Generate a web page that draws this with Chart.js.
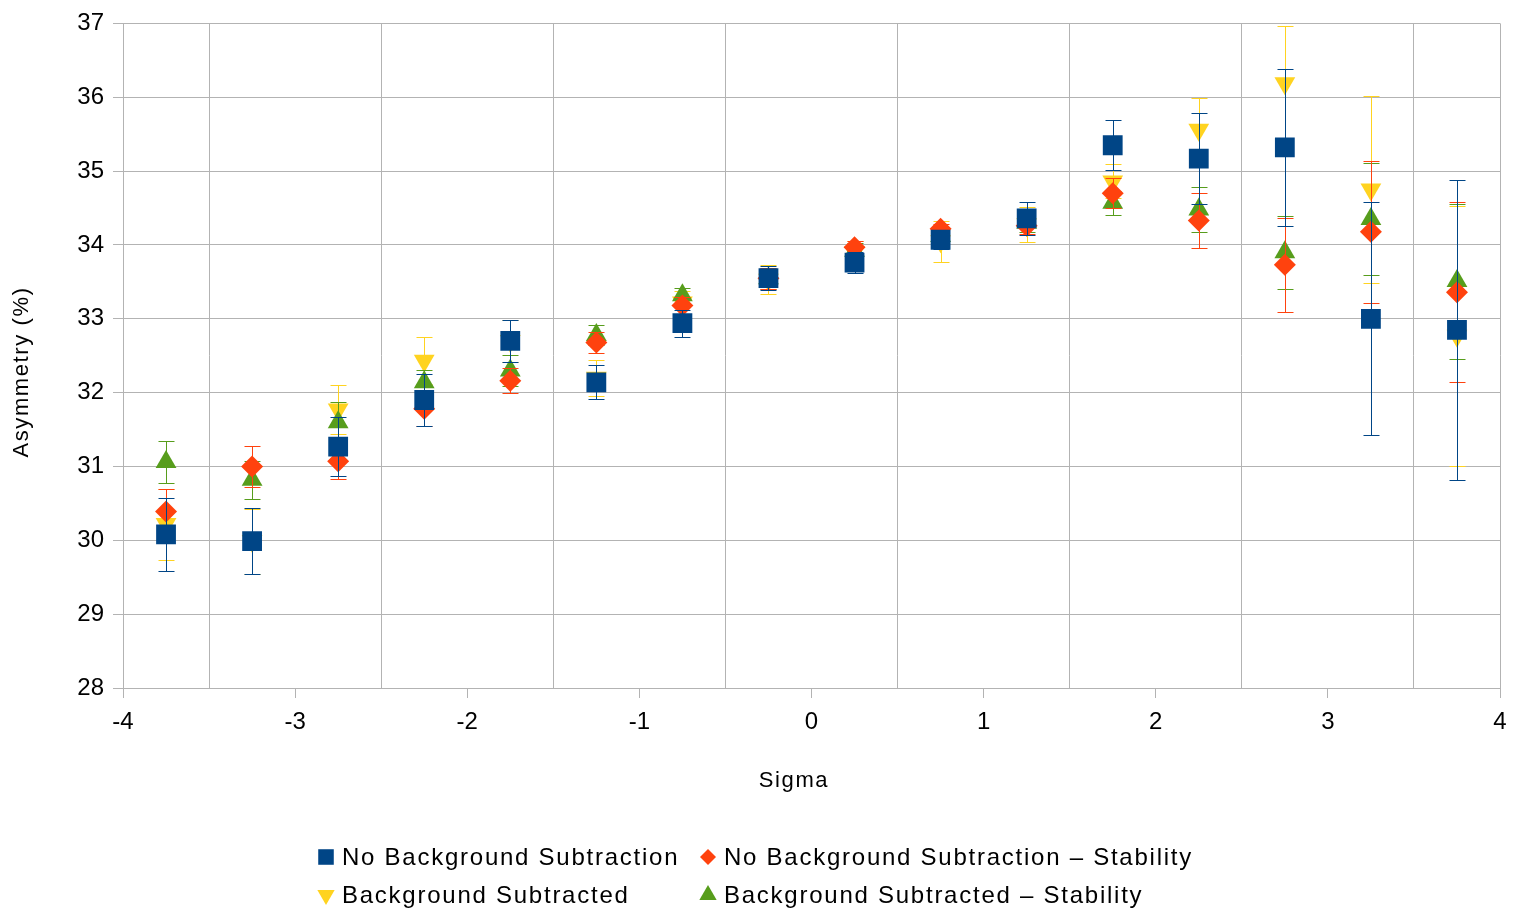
<!DOCTYPE html>
<html>
<head>
<meta charset="utf-8">
<title>Asymmetry vs Sigma</title>
<script src="https://cdn.jsdelivr.net/npm/chart.js@4.4.1/dist/chart.umd.min.js"></script>
<style>
  html, body { margin: 0; padding: 0; background: #fff; overflow: hidden; }
  canvas { display: block; }
</style>
</head>
<body>
<canvas id="asymChart" width="1514" height="909"></canvas>
<script>
// sigma bins (bin centres)
const sigma = [-3.75, -3.25, -2.75, -2.25, -1.75, -1.25, -0.75, -0.25,
               0.25, 0.75, 1.25, 1.75, 2.25, 2.75, 3.25, 3.75];
const sigmaTicks = [-4, -3, -2, -1, 0, 1, 2, 3, 4];

// asymmetry in %, with symmetric errors
const noBgSub      = [30.08, 29.99, 31.27, 31.90, 32.70, 32.14, 32.94, 33.55, 33.76, 34.07, 34.36, 35.35, 35.17, 35.32, 33.00, 32.85];
const noBgSubErr   = [0.49, 0.45, 0.40, 0.35, 0.29, 0.23, 0.18, 0.16, 0.14, 0.12, 0.22, 0.34, 0.61, 1.06, 1.58, 2.03];

const noBgSubStab    = [30.39, 31.00, 31.07, 31.78, 32.16, 32.68, 33.18, 33.55, 33.97, 34.22, 34.26, 34.70, 34.33, 33.73, 34.18, 33.36];
const noBgSubStabErr = [0.31, 0.28, 0.24, 0.23, 0.17, 0.14, 0.12, 0.14, 0.08, 0.06, 0.11, 0.20, 0.37, 0.64, 0.96, 1.22];

const bgSub    = [30.22, 29.99, 31.77, 32.43, 32.70, 32.20, 33.22, 33.53, 33.90, 34.05, 34.28, 34.86, 35.56, 36.19, 34.75, 32.77];
const bgSubErr = [0.48, 0.44, 0.33, 0.32, 0.29, 0.24, 0.16, 0.20, 0.15, 0.28, 0.24, 0.23, 0.43, 0.78, 1.27, 1.76];

const bgSubStab    = [31.06, 30.82, 31.60, 32.14, 32.30, 32.78, 33.32, 33.55, 33.92, 34.12, 34.30, 34.57, 34.48, 33.90, 34.35, 33.51];
const bgSubStabErr = [0.29, 0.26, 0.27, 0.17, 0.21, 0.13, 0.10, 0.14, 0.10, 0.12, 0.12, 0.16, 0.30, 0.49, 0.76, 1.05];

const FONT = "'Liberation Sans', Arial, sans-serif";
const GRID = '#b3b3b3';

function points(ys) {
  return sigma.map((x, i) => ({ x: x, y: ys[i] }));
}

// draws each series' error bars right before its markers
const errorBars = {
  id: 'errorBars',
  beforeDatasetDraw(chart, args) {
    const ds = chart.data.datasets[args.index];
    if (!ds.errors) return;
    const ctx = chart.ctx;
    const xs = chart.scales.x, ys = chart.scales.y;
    ctx.save();
    ctx.strokeStyle = ds.backgroundColor;
    ctx.lineWidth = 1;
    ds.data.forEach((p, i) => {
      const e = ds.errors[i];
      const px = Math.round(xs.getPixelForValue(p.x)) + 0.5;
      const top = Math.round(ys.getPixelForValue(p.y + e)) + 0.5;
      const bot = Math.round(ys.getPixelForValue(p.y - e)) + 0.5;
      ctx.beginPath();
      ctx.moveTo(px, top); ctx.lineTo(px, bot);
      ctx.moveTo(px - 8, top); ctx.lineTo(px + 8, top);
      ctx.moveTo(px - 8, bot); ctx.lineTo(px + 8, bot);
      ctx.stroke();
    });
    ctx.restore();
  }
};

// x tick labels (kept out of the scale so they don't eat into the right margin),
// plus both axis titles
const axisText = {
  id: 'axisText',
  afterDraw(chart) {
    const ctx = chart.ctx;
    const xs = chart.scales.x;
    ctx.save();
    ctx.fillStyle = '#000';
    ctx.textAlign = 'center';
    ctx.textBaseline = 'middle';
    ctx.font = '24px ' + FONT;
    sigmaTicks.forEach(v => {
      ctx.fillText(String(v), xs.getPixelForValue(v), xs.top + 34);
    });
    ctx.font = '22px ' + FONT;
    ctx.letterSpacing = '1.6px';
    ctx.fillText('Sigma', 794, 781);
    ctx.translate(22, 372);
    ctx.rotate(-Math.PI / 2);
    ctx.fillText('Asymmetry (%)', 0, 0);
    ctx.restore();
  }
};

// two-column legend under the plot
const legendCells = [[318, 857], [700, 857], [318, 895], [700, 895]];
const legendBox = {
  id: 'legendBox',
  afterDraw(chart) {
    const ctx = chart.ctx;
    ctx.save();
    ctx.font = '24px ' + FONT;
    ctx.textBaseline = 'middle';
    chart.data.datasets.forEach((ds, i) => {
      const [cx, cy] = legendCells[i];
      ctx.fillStyle = ds.backgroundColor;
      Chart.helpers.drawPoint(ctx, {
        pointStyle: ds.pointStyle,
        rotation: ds.rotation || 0,
        radius: ds.legendRadius,
        borderWidth: 0
      }, cx + 8, cy);
      ctx.fillStyle = '#000';
      ctx.letterSpacing = '1.75px';
      ctx.fillText(ds.label, cx + 24, cy + 1);
      ctx.letterSpacing = '0px';
    });
    ctx.restore();
  }
};

const ctx = document.getElementById('asymChart').getContext('2d');
new Chart(ctx, {
  type: 'scatter',
  data: {
    datasets: [
      {
        label: 'No Background Subtraction',
        data: points(noBgSub),
        errors: noBgSubErr,
        backgroundColor: '#004586',
        pointStyle: 'rect',
        pointRadius: 14,
        legendRadius: 11,
        order: 0
      },
      {
        label: 'No Background Subtraction – Stability',
        data: points(noBgSubStab),
        errors: noBgSubStabErr,
        backgroundColor: '#ff420e',
        pointStyle: 'rectRot',
        pointRadius: 11,
        legendRadius: 8,
        order: 1
      },
      {
        label: 'Background Subtracted',
        data: points(bgSub),
        errors: bgSubErr,
        backgroundColor: '#ffd320',
        pointStyle: 'triangle',
        rotation: 180,
        pointRotation: 180,
        pointRadius: 12,
        legendRadius: 10,
        order: 3
      },
      {
        label: 'Background Subtracted – Stability',
        data: points(bgSubStab),
        errors: bgSubStabErr,
        backgroundColor: '#579d1c',
        pointStyle: 'triangle',
        pointRadius: 12,
        legendRadius: 10,
        order: 2
      }
    ]
  },
  options: {
    responsive: false,
    animation: false,
    events: [],
    elements: { point: { borderWidth: 0 } },
    layout: { padding: { top: 22, right: 4, left: 0, bottom: 0 } },
    plugins: {
      legend: { display: false },
      tooltip: { enabled: false }
    },
    scales: {
      x: {
        type: 'linear',
        min: -4,
        max: 4,
        border: { color: GRID },
        grid: {
          tickLength: 10,
          color: c => (Number.isInteger(c.tick.value) && Math.abs(c.tick.value) !== 4) ? 'rgba(0,0,0,0)' : GRID,
          tickColor: c => Number.isInteger(c.tick.value) ? GRID : 'rgba(0,0,0,0)'
        },
        ticks: {
          stepSize: 0.5,
          autoSkip: false,
          maxRotation: 0,
          padding: 0,
          callback: () => ''
        },
        afterFit: scale => { scale.height = 221; }
      },
      y: {
        min: 28,
        max: 37,
        border: { color: GRID },
        grid: { color: GRID, tickLength: 10 },
        ticks: {
          stepSize: 1,
          padding: 9,
          color: '#000',
          font: { family: FONT, size: 24 }
        },
        afterFit: scale => { scale.width = 123; }
      }
    }
  },
  plugins: [errorBars, axisText, legendBox]
});
</script>
</body>
</html>
